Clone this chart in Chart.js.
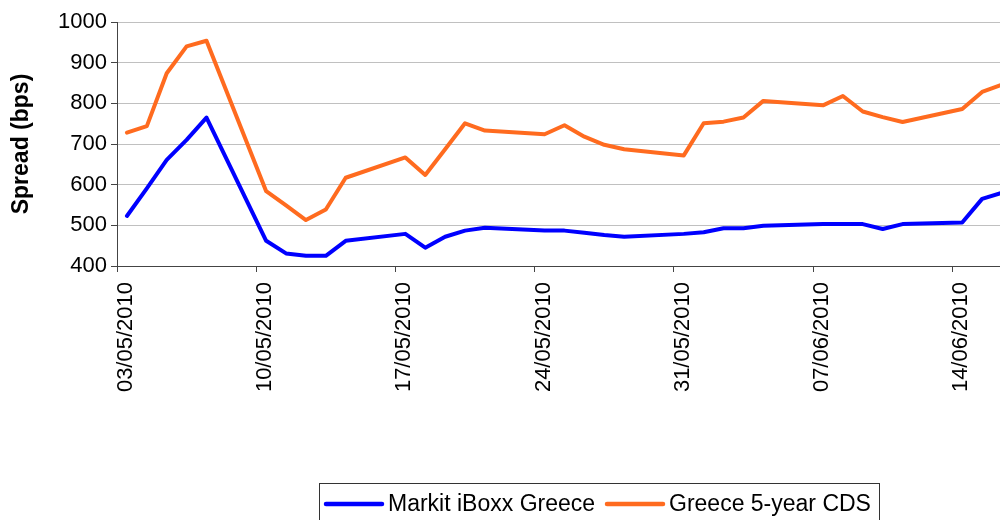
<!DOCTYPE html>
<html><head><meta charset="utf-8">
<script src="https://cdn.jsdelivr.net/npm/chart.js@4.4.1/dist/chart.umd.min.js"></script>
<style>html,body{margin:0;padding:0;background:#fff}#wrap{width:1000px;height:520px;position:relative}</style>
</head><body><div id="wrap"><canvas id="c" width="1000" height="520"></canvas></div>
<script>
const dates = [
  '03/05/2010','04/05/2010','05/05/2010','06/05/2010','07/05/2010',
  '10/05/2010','11/05/2010','12/05/2010','13/05/2010','14/05/2010',
  '17/05/2010','18/05/2010','19/05/2010','20/05/2010','21/05/2010',
  '24/05/2010','25/05/2010','26/05/2010','27/05/2010','28/05/2010',
  '31/05/2010','01/06/2010','02/06/2010','03/06/2010','04/06/2010',
  '07/06/2010','08/06/2010','09/06/2010','10/06/2010','11/06/2010',
  '14/06/2010','15/06/2010','16/06/2010'
];
const iboxxGreece = [
  523, 591, 661, 710, 765,
  462, 431, 425, 425, 462,
  479, 445, 472, 487, 494,
  487, 487, 482, 476, 472,
  479, 483, 493, 493, 499,
  503, 503, 503, 491, 503,
  507, 565, 580
];
const cdsGreece = [
  728, 744, 874, 940, 954,
  584, 549, 513, 539, 617,
  667, 624, 687, 751, 733,
  724, 746, 718, 698, 687,
  672, 751, 755, 765, 806,
  795, 818, 780, 766, 754,
  786, 828, 846
];
const tickDates = ['03/05/2010','10/05/2010','17/05/2010','24/05/2010','31/05/2010','07/06/2010','14/06/2010'];
const seriesNames = ['Markit iBoxx Greece', 'Greece 5-year CDS'];
const seriesColors = ['#0000ff', '#ff6b1f'];
const yTicks = [400, 500, 600, 700, 800, 900, 1000];
const yTitle = 'Spread (bps)';

function dayOffset(s) {
  const [d, m, y] = s.split('/').map(Number);
  return (Date.UTC(y, m - 1, d) - Date.UTC(2010, 4, 3)) / 86400000;
}
function toPoints(vals) {
  return dates.map((d, i) => ({ x: dayOffset(d) + 0.5, y: vals[i] }));
}

const FONT = '"Liberation Sans", Arial, sans-serif';

const boxLegend = {
  id: 'boxLegend',
  afterDraw(chart) {
    const ctx = chart.ctx;
    ctx.save();
    ctx.strokeStyle = '#333';
    ctx.lineWidth = 1;
    ctx.strokeRect(319.5, 483.5, 560, 60);
    const samples = [[326, 382, 388], [607, 663, 669]];
    const yMid = 504;
    chart.data.datasets.forEach((ds, i) => {
      const [a, b, t] = samples[i];
      ctx.strokeStyle = ds.borderColor;
      ctx.lineWidth = 4.5;
      ctx.lineCap = 'round';
      ctx.beginPath(); ctx.moveTo(a, yMid); ctx.lineTo(b, yMid); ctx.stroke();
      ctx.fillStyle = '#000';
      ctx.font = '23px ' + FONT;
      ctx.textBaseline = 'middle';
      ctx.textAlign = 'left';
      ctx.fillText(ds.label, t, yMid + 1);
    });
    ctx.restore();
  }
};

new Chart(document.getElementById('c'), {
  type: 'line',
  data: {
    datasets: [
      { label: seriesNames[0], data: toPoints(iboxxGreece), borderColor: seriesColors[0], backgroundColor: seriesColors[0], borderWidth: 4, pointRadius: 0, tension: 0, borderJoinStyle: 'round', borderCapStyle: 'round' },
      { label: seriesNames[1], data: toPoints(cdsGreece), borderColor: seriesColors[1], backgroundColor: seriesColors[1], borderWidth: 4, pointRadius: 0, tension: 0, borderJoinStyle: 'round', borderCapStyle: 'round' }
    ]
  },
  options: {
    responsive: false,
    devicePixelRatio: 1,
    animation: false,
    layout: { padding: { top: 22, right: 0, left: 0, bottom: 0 } },
    plugins: { legend: { display: false }, tooltip: { enabled: false } },
    scales: {
      x: {
        type: 'linear',
        min: 0,
        max: 44.4,
        afterBuildTicks: (s) => { s.ticks = tickDates.map(t => ({ value: dayOffset(t) })); },
        afterFit: (s) => { s.height = 254; },
        ticks: {
          autoSkip: false, maxRotation: 90, minRotation: 90,
          color: '#000', font: { family: FONT, size: 22 }, padding: 10, labelOffset: 9,
          callback: (v) => { const t = tickDates.find(d => dayOffset(d) === v); return t || ''; }
        },
        grid: { drawOnChartArea: false, drawTicks: true, tickLength: 6, tickColor: '#444', color: '#444' },
        border: { color: '#444', width: 1 }
      },
      y: {
        min: 400, max: 1000,
        afterBuildTicks: (s) => { s.ticks = yTicks.map(v => ({ value: v })); },
        afterFit: (s) => { s.width = 117; },
        ticks: { color: '#000', font: { family: FONT, size: 22 }, padding: 4, callback: (v) => String(v) },
        grid: { color: '#c0c0c0', lineWidth: 1, tickLength: 6, tickColor: '#444' },
        border: { color: '#444', width: 1 },
        title: { display: true, text: yTitle, color: '#000', font: { family: FONT, size: 23, weight: 'bold' }, padding: { top: 8, bottom: 0 } }
      }
    }
  },
  plugins: [boxLegend]
});
</script>
</body></html>
